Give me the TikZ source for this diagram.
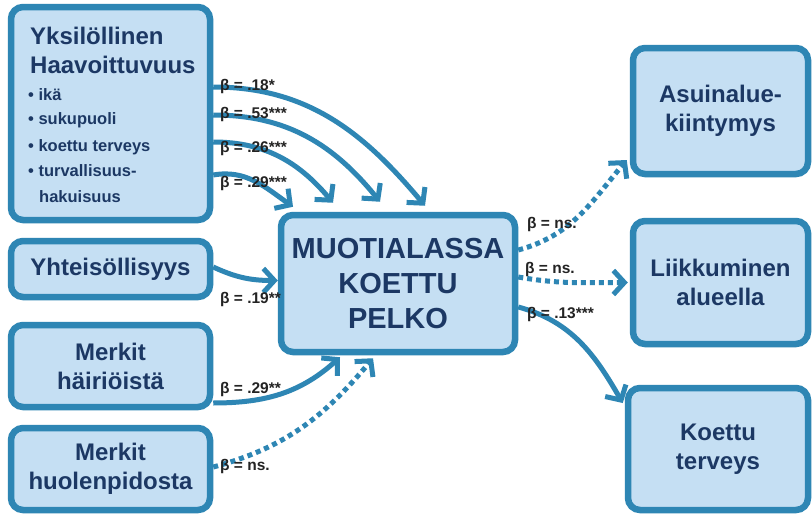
\documentclass[tikz,border=0pt]{standalone}
\usepackage{fontspec}
\setmainfont{Liberation Sans}
\usetikzlibrary{arrows.meta,calc}
\definecolor{boxfill}{RGB}{197,223,243}
\definecolor{boxline}{RGB}{46,134,180}
\definecolor{boxtext}{RGB}{28,56,100}
\definecolor{labeltext}{RGB}{35,35,35}

\begin{document}
\begin{tikzpicture}[x=1pt,y=1pt,
  box/.style={draw=boxline, fill=boxfill, line width=6.5pt, rounded corners=12pt,
    inner sep=0pt, text=boxtext, align=center, font=\bfseries\fontsize{24}{29}\selectfont},
  itemtext/.style={anchor=base west, inner sep=0pt, text=boxtext},
  link/.style={draw=boxline, line width=5pt, -{Straight Barb[length=11pt,width=24pt]}},
  nslink/.style={link, dash pattern=on 5pt off 4pt},
  beta/.style={anchor=base west, inner sep=0pt, text=labeltext,
    font=\bfseries\fontsize{15.5}{18}\selectfont}]

\useasboundingbox (0,0) rectangle (812,-514);
\fill[white] (0,0) rectangle (812,-514);

% ---- boxes ----
\node[box, minimum width=199pt, minimum height=213pt] (yks) at (110.5,-113.5) {};
\node[box, minimum width=199pt, minimum height=56pt] (yht) at (110.5,-269) {Yhteisöllisyys};
\node[box, minimum width=199pt, minimum height=82pt] (mh) at (110.5,-366) {Merkit\\häiriöistä};
\node[box, minimum width=199pt, minimum height=82pt] (mp) at (110.5,-469) {Merkit\\huolenpidosta};
\node[box, minimum width=234pt, minimum height=137pt,
      font=\bfseries\fontsize{29}{35}\selectfont] (cen) at (398,-283.5) {MUOTIALASSA\\KOETTU\\PELKO};
\node[box, minimum width=175pt, minimum height=126pt] (asu) at (720.5,-111) {Asuinalue-\\kiintymys};
\node[box, minimum width=175pt, minimum height=123pt] (lii) at (720.5,-282.5) {Liikkuminen\\alueella};
\node[box, minimum width=180pt, minimum height=122pt] (koe) at (718,-449) {Koettu\\terveys};

% ---- contents of the vulnerability box ----
\node[itemtext, font=\bfseries\fontsize{24}{29}\selectfont] (t1) at (30,-45) {Yksilöllinen};
\node[itemtext, font=\bfseries\fontsize{24}{29}\selectfont] (t2) at (30,-73) {Haavoittuvuus};
\node[itemtext, font=\bfseries\fontsize{16.5}{20}\selectfont] (t3) at (28,-100) {• ikä};
\node[itemtext, font=\bfseries\fontsize{16.5}{20}\selectfont] (t4) at (28,-124) {• sukupuoli};
\node[itemtext, font=\bfseries\fontsize{16.5}{20}\selectfont] (t5) at (28,-151) {• koettu terveys};
\node[itemtext, font=\bfseries\fontsize{16.5}{20}\selectfont] (t6) at (28,-176) {• turvallisuus-};
\node[itemtext, font=\bfseries\fontsize{16.5}{20}\selectfont] (t7) at (39,-202) {hakuisuus};

% ---- paths into the central box ----
\draw[link] ([yshift=26.5pt]yks.east) to[out=0,in=130] ([xshift=27pt,yshift=6pt]cen.north);
\draw[link] ([yshift=-1.5pt]yks.east) to[out=0,in=129] ([xshift=-18pt,yshift=10pt]cen.north);
\draw[link] ([yshift=-28.5pt]yks.east) to[out=0,in=130] ([xshift=-65pt,yshift=9pt]cen.north);
\draw[link] ([yshift=-61.5pt]yks.east) to[out=10,in=145] ([xshift=-105pt,yshift=5pt]cen.north);
\draw[link] ([yshift=2pt]yht.east) to[out=-25,in=180] ([yshift=3pt]cen.west);
\draw[link] ([yshift=-37pt]mh.east) to[out=0,in=-138] ([xshift=-58pt,yshift=-2pt]cen.south);
\draw[nslink] ([yshift=2pt]mp.east) to[out=15,in=-130] ([xshift=-25pt,yshift=-3pt]cen.south);

% ---- paths out of the central box ----
\draw[nslink] ([yshift=33.5pt]cen.east) to[out=15,in=-130] ([xshift=-3pt,yshift=-49pt]asu.west);
\draw[nslink] ([yshift=6.5pt]cen.east) to[out=-10,in=180] ([xshift=-2pt]lii.west);
\draw[link] ([yshift=-23.5pt]cen.east) to[out=-15,in=120] ([xshift=-2pt,yshift=46pt]koe.west);

% ---- coefficients ----
\node[beta] (b1) at (220,-90) {β = .18*};
\node[beta] (b2) at (220,-118) {β = .53***};
\node[beta] (b3) at (220,-152) {β = .26***};
\node[beta] (b4) at (220,-187) {β = .29***};
\node[beta] (b5) at (220,-303) {β = .19**};
\node[beta] (b6) at (220,-393) {β = .29**};
\node[beta] (b7) at (220,-470) {β = ns.};
\node[beta] (b8) at (527,-228) {β = ns.};
\node[beta] (b9) at (525,-273) {β = ns.};
\node[beta] (b10) at (527,-318) {β = .13***};
\end{tikzpicture}
\end{document}
